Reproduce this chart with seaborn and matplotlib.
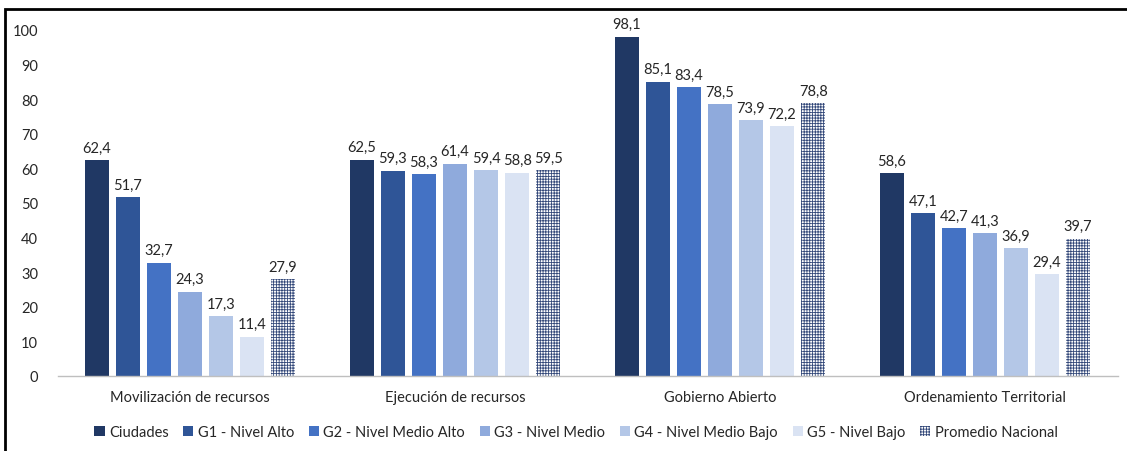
import matplotlib
matplotlib.use("Agg")
import matplotlib.pyplot as plt
from matplotlib.patches import Patch, Rectangle
import seaborn as sns
import pandas as pd

# Indicator categories and group series
categories = ["Movilización de recursos", "Ejecución de recursos",
              "Gobierno Abierto", "Ordenamiento Territorial"]
groups = ["Ciudades", "G1 - Nivel Alto", "G2 - Nivel Medio Alto", "G3 - Nivel Medio",
          "G4 - Nivel Medio Bajo", "G5 - Nivel Bajo", "Promedio Nacional"]

ciudades = [62.4, 62.5, 98.1, 58.6]
g1_alto = [51.7, 59.3, 85.1, 47.1]
g2_medio_alto = [32.7, 58.3, 83.4, 42.7]
g3_medio = [24.3, 61.4, 78.5, 41.3]
g4_medio_bajo = [17.3, 59.4, 73.9, 36.9]
g5_bajo = [11.4, 58.8, 72.2, 29.4]
promedio_nacional = [27.9, 59.5, 78.8, 39.7]

series = [ciudades, g1_alto, g2_medio_alto, g3_medio, g4_medio_bajo, g5_bajo, promedio_nacional]
colors = ["#203864", "#2F5597", "#4472C4", "#8FAADC", "#B4C7E7", "#DAE3F3", "#FFFFFF"]
hatch_color = "#34497A"

rows = []
for g, vals in zip(groups, series):
    for c, v in zip(categories, vals):
        rows.append({"categoria": c, "grupo": g, "valor": v})
df = pd.DataFrame(rows)

sns.set_theme(style="white")
plt.rcParams["font.family"] = ["Lato", "DejaVu Sans"]
plt.rcParams["hatch.linewidth"] = 0.6

fig = plt.figure(figsize=(11.27, 4.52), dpi=100)
ax = fig.add_axes([57.5 / 1127, 75 / 452, 1060 / 1127, 346 / 452])

sns.barplot(data=df, x="categoria", y="valor", hue="grupo", order=categories,
            hue_order=groups, palette=colors, saturation=1, width=0.82, gap=0.23,
            linewidth=0, legend=False, ax=ax)

# Patterned fill for the national average
for bar in ax.containers[-1]:
    bar.set_facecolor("white")
    bar.set_edgecolor(hatch_color)
    bar.set_hatch("++++++")
    bar.set_linewidth(0)

# Value labels with decimal comma
for cont, vals in zip(ax.containers, series):
    labels = [f"{v:.1f}".replace(".", ",") for v in vals]
    ax.bar_label(cont, labels=labels, padding=4, fontsize=10.5, color="#262626",
                 clip_on=False)

ax.set_ylim(0, 100)
ax.set_yticks(range(0, 101, 10))
ax.set_xlim(-0.5, 3.5)
ax.set_xlabel("")
ax.set_ylabel("")
ax.tick_params(axis="both", length=0, labelsize=10.5, colors="#262626")
ax.tick_params(axis="x", pad=10)
ax.tick_params(axis="y", pad=14)
for s in ["top", "right", "left"]:
    ax.spines[s].set_visible(False)
ax.spines["bottom"].set_color("#BFBFBF")
ax.spines["bottom"].set_linewidth(1)

handles = []
for g, col in zip(groups, colors):
    if g == "Promedio Nacional":
        handles.append(Patch(facecolor="white", edgecolor=hatch_color, hatch="++++++",
                             linewidth=0, label=g))
    else:
        handles.append(Patch(facecolor=col, linewidth=0, label=g))
fig.legend(handles=handles, loc="center", bbox_to_anchor=(576 / 1127, 1 - 433 / 452),
           ncol=7, frameon=False, fontsize=10.5, handlelength=0.7, handleheight=0.7,
           handletextpad=0.3, columnspacing=1.0, labelcolor="#262626")

# Outer frame around the chart area
fig.patches.append(Rectangle((5 / 1127, -0.5), 2.0, 0.5 + 1 - 10 / 452,
                             transform=fig.transFigure, fill=False,
                             edgecolor="black", linewidth=2))

fig.savefig("out.png", dpi=100, facecolor="white")
